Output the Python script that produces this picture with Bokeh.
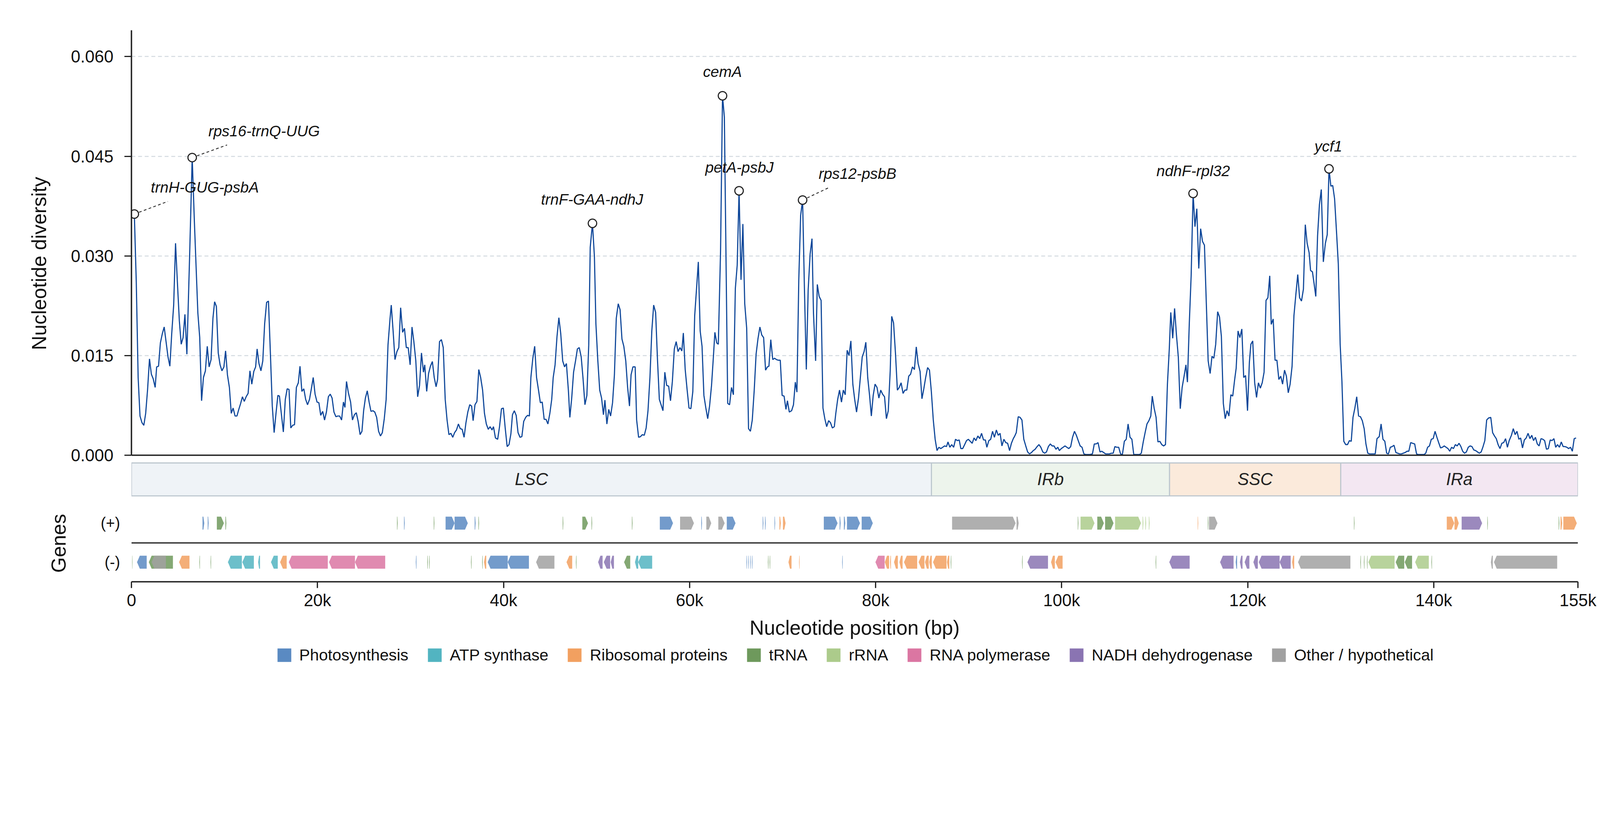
from bokeh.plotting import figure
from bokeh.models import (Range1d, FixedTicker, PrintfTickFormatter, CustomJSTickFormatter,
                          Legend, LegendItem, Span)
from bokeh.layouts import column
from bokeh.embed import file_html
from bokeh.resources import INLINE
from bokeh.core.properties import value

FONT = "Liberation Sans"

# ---------------- sliding-window nucleotide diversity (pi, in units of 1e-3) ----------------
pos_a = [310, 520, 720, 920, 1130, 1330, 1530, 1730, 1940, 2140,
         2340, 2550, 2710, 2910, 3110, 3320, 3520, 3720, 3930, 4130,
         4330, 4540, 4740, 4940, 5150, 5350, 5550, 5750, 5960, 6260,
         6530, 6770, 6930, 7140, 7340, 7540, 7740, 7950, 8150, 8350,
         8560, 8760, 8940, 9130, 9330, 9530, 9730, 9940, 10120, 10320,
         10530, 10730, 10930, 11140, 11340, 11540, 11740, 11930, 12130, 12330,
         12540, 12740, 12940, 13150, 13350, 13510, 13710, 13920, 14120, 14320,
         14530, 14730, 14930, 15140, 15340, 15540, 15740, 15910, 16110, 16330,
         16540, 16740, 16940, 17130, 17330, 17530, 17730, 17940, 18120, 18320,
         18530, 18730, 18930, 19140, 19340, 19540, 19740, 19950, 20150, 20350,
         20560, 20760, 20960, 21170, 21370, 21570, 21770, 21980, 22180, 22380,
         22590, 22790, 22950, 23120, 23320, 23560, 23760, 23970, 24170, 24370,
         24580, 24780, 24960, 25150, 25350, 25550, 25750, 25960, 26160, 26360,
         26570, 26770, 26970, 27180, 27380, 27580, 27790, 27930, 28130, 28330,
         28540, 28740, 28940, 29150, 29350, 29550, 29750, 29960, 30160, 30360,
         30570, 30770, 30970, 31180]
pi_a = [36.3, 26.0, 11.7, 5.9, 4.9, 4.5, 6.3, 9.8, 14.5, 12.2,
        11.5, 10.2, 13.3, 13.4, 16.9, 18.3, 19.3, 17.1, 14.8, 13.4,
        18.3, 22.6, 31.9, 26.0, 20.2, 16.7, 17.7, 21.2, 15.2, 30.3,
        44.8, 35.0, 29.1, 21.4, 17.7, 8.2, 11.7, 12.7, 16.4, 13.3,
        14.4, 20.6, 23.1, 22.4, 15.4, 13.6, 12.7, 13.3, 15.7, 12.1,
        10.2, 6.3, 7.1, 5.9, 5.9, 6.9, 7.8, 8.8, 8.1, 8.8,
        9.3, 12.7, 10.7, 12.6, 13.3, 16.0, 13.8, 12.7, 14.2, 19.8,
        23.0, 23.2, 15.6, 7.4, 3.4, 6.3, 9.0, 8.9, 6.3, 3.5,
        8.4, 10.0, 9.9, 4.1, 4.5, 4.6, 10.2, 10.9, 13.4, 9.6,
        10.0, 8.4, 7.6, 8.4, 10.0, 11.7, 9.2, 8.0, 7.9, 6.0,
        6.6, 5.3, 6.5, 8.8, 9.2, 8.6, 6.5, 5.8, 5.9, 5.9,
        5.3, 8.0, 7.2, 11.1, 9.4, 8.0, 5.3, 6.1, 6.4, 5.1,
        3.1, 3.6, 6.7, 8.6, 9.7, 8.0, 6.6, 6.7, 6.5, 5.7,
        3.6, 2.9, 3.4, 5.5, 8.4, 16.6, 20.4, 22.6, 18.7, 14.4,
        15.6, 16.2, 22.2, 18.5, 19.1, 16.2, 16.2, 13.6, 19.3, 17.1,
        14.2, 8.8, 10.5, 15.4]

pos_b = [31390, 31530, 31740, 31940, 32140, 32350, 32550, 32750, 32910, 33120,
         33320, 33520, 33730, 33930, 34130, 34340, 34540, 34740, 34940, 35150,
         35350, 35550, 35760, 35960, 36160, 36370, 36570, 36730, 36930, 37140,
         37340, 37540, 37750, 37950, 38150, 38360, 38560, 38760, 38920, 39130,
         39370, 39570, 39780, 39980, 40180, 40390, 40590, 40790, 40960, 41160,
         41360, 41560, 41770, 41970, 42170, 42380, 42580, 42780, 42940, 43150,
         43350, 43550, 43760, 43960, 44160, 44370, 44570, 44770, 44980, 45180,
         45340, 45540, 45750, 45950, 46150, 46360, 46560, 46760, 46970, 47130,
         47330, 47530, 47740, 47940, 48140, 48350, 48550, 48750, 48960, 49160,
         49320, 49560, 49770, 49930, 50130, 50340, 50540, 50740, 50900, 51110,
         51310, 51510, 51720, 51920, 52120, 52330, 52530, 52730, 52930, 53140,
         53340, 53540, 53710, 53910, 54150, 54310, 54520, 54720, 54920, 55130,
         55330, 55530, 55740, 55940, 56140, 56350, 56550, 56750, 56960, 57140,
         57340, 57540, 57750, 57950, 58150, 58360, 58560, 58760, 58970, 59170,
         59330, 59530, 59740, 59940, 60140, 60350, 60550, 60750, 60940, 61140,
         61340, 61540, 61750, 61950, 62150, 62360, 62560, 62720, 62920, 63090]
pi_b = [12.5, 13.6, 9.6, 12.3, 13.4, 14.1, 11.7, 10.3, 11.4, 17.1,
        17.4, 16.2, 8.4, 5.3, 3.1, 3.3, 2.7, 3.4, 3.8, 4.7,
        4.0, 3.9, 2.7, 4.9, 6.5, 7.6, 7.4, 5.2, 7.6, 8.1,
        12.9, 11.7, 9.8, 6.3, 4.7, 3.9, 4.3, 3.8, 4.3, 2.6,
        2.4, 4.3, 7.0, 7.1, 4.1, 1.3, 1.6, 3.2, 6.1, 6.7,
        6.0, 3.4, 2.7, 2.8, 5.1, 5.7, 6.0, 5.9, 11.7, 14.6,
        16.4, 11.7, 9.8, 7.9, 8.0, 5.4, 5.4, 4.7, 6.3, 8.4,
        11.7, 13.6, 17.9, 20.7, 18.3, 14.2, 13.3, 13.8, 9.8, 5.7,
        8.6, 12.5, 14.2, 16.0, 16.2, 14.8, 11.5, 7.6, 9.0, 16.6,
        31.3, 34.9, 29.9, 19.8, 14.4, 9.8, 8.6, 6.1, 8.3, 4.7,
        6.9, 5.9, 7.9, 12.1, 20.6, 22.8, 21.9, 17.5, 16.4, 14.2,
        10.2, 7.4, 12.1, 13.3, 13.3, 5.3, 2.7, 2.8, 3.1, 3.0,
        4.1, 6.7, 11.7, 18.7, 22.6, 21.5, 14.4, 8.4, 7.5, 6.7,
        12.5, 10.5, 10.4, 8.2, 11.1, 16.0, 17.1, 15.6, 16.2, 15.7,
        18.4, 12.9, 9.8, 7.1, 7.0, 9.6, 21.0, 25.1, 29.1, 18.7,
        16.4, 9.0, 7.1, 5.5, 7.4, 10.5, 14.8, 18.5, 16.9, 16.7]

pos_c = [63330, 63540, 63740, 64100, 64300, 64510, 64710, 64920, 65120, 65320,
         65530, 65730, 65930, 66140, 66340, 66540, 66740, 66950, 67150, 67350,
         67560, 67760, 67960, 68170, 68370, 68530, 68730, 68940, 69140, 69340,
         69550, 69750, 69950, 70160, 70360, 70520, 70720, 70970, 71170, 71370,
         71540, 71740, 71940, 72150, 72350, 72550, 72750, 72960, 73160, 73320,
         73550, 73730, 73930, 74140, 74340, 74540, 74740, 74950, 75150, 75350,
         75560, 75720, 75920, 76120, 76330, 76530, 76730, 76940, 77140, 77340,
         77550, 77750, 77950, 78160, 78360, 78560, 78760, 78950, 79150, 79350,
         79540, 79740, 79940, 80150, 80350, 80550, 80750, 80960, 81160, 81360,
         81570, 81730, 81930, 82140, 82340, 82540, 82740, 82950, 83150, 83350,
         83560, 83760, 83960, 84170, 84370, 84570, 84780, 84980, 85180, 85380,
         85590, 85790, 85990, 86200, 86400, 86600, 86800, 87010, 87210, 87410,
         87620, 87780, 87980, 88180, 88390, 88590, 88790, 88990, 89160, 89360,
         89570, 89770, 89970, 90170, 90380, 90580, 90780, 90990, 91190, 91390,
         91600, 91800, 91960, 92170, 92370, 92570, 92770, 92980, 93180, 93380,
         93580, 93790, 93990, 94190, 94400, 94600, 94800]
pi_c = [30.7, 54.1, 50.9, 7.8, 7.6, 10.2, 9.1, 25.1, 28.6, 39.8,
        26.4, 34.8, 22.8, 19.1, 4.0, 3.6, 5.3, 9.8, 15.2, 17.5,
        19.3, 18.1, 17.7, 12.8, 13.3, 13.4, 17.4, 14.4, 14.6, 14.4,
        14.3, 14.3, 9.0, 8.9, 6.9, 8.2, 6.5, 6.7, 7.6, 11.0,
        9.5, 26.4, 36.1, 38.4, 24.9, 12.9, 24.9, 30.3, 32.6, 21.4,
        14.2, 25.7, 23.9, 23.3, 7.1, 5.5, 4.3, 5.2, 4.9, 4.1,
        4.3, 6.3, 8.4, 9.8, 8.0, 9.8, 9.1, 15.8, 15.0, 17.2,
        10.7, 8.4, 6.5, 8.6, 11.7, 14.8, 15.6, 17.0, 11.7, 9.0,
        5.9, 9.0, 10.7, 10.2, 8.6, 9.8, 9.2, 8.8, 5.5, 6.7,
        12.7, 20.9, 19.9, 15.2, 9.8, 10.2, 10.9, 9.3, 9.8, 9.8,
        11.9, 12.2, 13.3, 12.9, 16.3, 13.8, 12.6, 8.5, 10.0, 11.7,
        13.2, 12.8, 9.6, 5.3, 2.4, 0.7, 1.2, 1.0, 1.2, 1.4,
        1.3, 2.0, 1.2, 1.6, 1.2, 2.4, 2.2, 2.3, 1.0, 1.0,
        1.6, 2.2, 2.4, 2.1, 1.8, 2.6, 2.2, 2.9, 2.5, 3.3,
        2.3, 2.3, 1.2, 2.2, 2.4, 3.6, 2.7, 3.8, 3.0, 3.3,
        1.4, 2.4, 1.9, 1.8, 0.7, 1.8, 2.5]

pos_d = [94960, 95120, 95330, 95530, 95730, 95930, 96140, 96340, 96540, 96750,
         96950, 97150, 97360, 97560, 97760, 97970, 98170, 98370, 98570, 98780,
         98980, 99180, 99390, 99590, 99750, 99960, 100160, 100360, 100560, 100770,
         100970, 101170, 101380, 101580, 101780, 101990, 102190, 102390, 102600, 102800,
         103000, 103310, 103510, 103710, 103910, 104120, 104320, 104520, 104730, 104930,
         105130, 105340, 105540, 105720, 105920, 106130, 106330, 106530, 106740, 106940,
         107140, 107350, 107550, 107750, 107950, 108160, 108360, 108560, 108770, 108970,
         109170, 109380, 109580, 109740, 109940, 110150, 110350, 110550, 110760, 110960,
         111160, 111370, 111570, 111730, 111940, 112140, 112340, 112540, 112750, 112950,
         113150, 113360, 113520, 113720, 113920, 114130, 114330, 114530, 114740, 114940,
         115140, 115350, 115550, 115750, 115960, 116160, 116360, 116560, 116770, 116970,
         117170, 117380, 117580, 117780, 117980, 118190, 118390, 118590, 118760, 118960,
         119160, 119370, 119570, 119770, 119980, 120180, 120340, 120540, 120750, 120950,
         121150, 121360, 121560, 121760, 121970, 122170, 122370, 122530, 122740, 122940,
         123140, 123350, 123550, 123750, 123960, 124160, 124360, 124560, 124770, 124970,
         125170, 125380, 125580, 125780, 125990, 126190, 126390, 126600, 126760]
pi_d = [2.9, 3.4, 5.8, 5.7, 5.3, 2.4, 1.4, 0.5, 0.2, 0.4,
        0.7, 0.9, 1.3, 1.6, 1.2, 0.5, 0.3, 0.5, 1.3, 1.7,
        1.4, 1.4, 0.9, 1.2, 0.7, 1.0, 1.2, 1.4, 1.2, 1.0,
        1.3, 2.7, 3.6, 3.0, 2.2, 1.4, 1.2, 0.2, 0.1, 0.1,
        0.1, 0.2, 1.7, 1.7, 1.9, 0.5, 0.6, 0.4, 0.2, 0.2,
        0.2, 0.3, 0.3, 1.3, 1.2, 1.2, 0.2, 0.1, 2.1, 2.4,
        4.7, 2.7, 2.4, 0.1, 0.1, 0.1, 0.1, 0.3, 2.0, 3.4,
        4.7, 5.2, 5.9, 8.9, 7.1, 5.7, 2.0, 2.1, 1.6, 1.4,
        1.6, 10.7, 16.0, 21.5, 17.6, 22.1, 18.1, 14.8, 7.0, 10.2,
        11.8, 13.6, 11.0, 19.8, 27.0, 39.4, 34.4, 37.1, 28.1, 34.1,
        32.2, 31.6, 22.9, 14.2, 12.3, 14.9, 14.6, 16.7, 21.6, 20.8,
        17.9, 7.8, 5.5, 6.7, 5.9, 9.1, 8.9, 11.3, 13.1, 18.7,
        17.7, 19.0, 11.7, 12.0, 6.7, 14.0, 16.7, 17.2, 10.9, 8.7,
        10.9, 10.1, 10.9, 12.5, 23.3, 23.7, 27.0, 19.7, 20.5, 14.3,
        14.3, 11.4, 11.9, 10.7, 12.8, 11.9, 9.4, 10.7, 13.4, 21.0,
        24.1, 27.2, 23.7, 23.2, 25.0, 34.7, 31.9, 30.5, 27.8]

pos_e = [126960, 127120, 127320, 127510, 127710, 127910, 128130, 128350, 128550, 128740,
         128940, 129140, 129340, 129540, 129740, 129940, 130130, 130330, 130530, 130730,
         130930, 131130, 131320, 131520, 131720, 131920, 132120, 132320, 132520, 132710,
         132910, 133110, 133310, 133510, 133710, 133900, 134140, 134340, 134540, 134740,
         134940, 135130, 135330, 135530, 135730, 135930, 136130, 136330, 136520, 136720,
         136920, 137120, 137320, 137520, 137720, 137950, 138150, 138350, 138550, 138750,
         138950, 139140, 139340, 139540, 139740, 139940, 140140, 140340, 140530, 140730,
         140930, 141130, 141330, 141530, 141720, 141920, 142120, 142320, 142520, 142720,
         142920, 143110, 143310, 143510, 143710, 143910, 144110, 144300, 144500, 144700,
         144900, 145100, 145300, 145490, 145690, 145890, 146130, 146330, 146530, 146720,
         146920, 147120, 147320, 147520, 147720, 147920, 148110, 148350, 148550, 148750,
         148950, 149150, 149340, 149540, 149740, 149940, 150140, 150340, 150540, 150730,
         150930, 151130, 151330, 151530, 151730, 151920, 152120, 152320, 152520, 152720,
         152920, 153110, 153310, 153510, 153710, 153910, 154110, 154310, 154500, 154700,
         154900, 155100, 155300]
pi_e = [27.6, 26.0, 23.9, 33.0, 37.7, 40.0, 29.1, 31.9, 33.2, 43.1,
        40.5, 40.6, 38.6, 33.8, 28.8, 16.7, 11.1, 2.1, 1.6, 1.6,
        2.2, 2.1, 5.7, 7.1, 8.8, 5.9, 5.8, 5.2, 4.0, 1.7,
        0.3, 0.2, 0.2, 0.2, 0.2, 2.5, 2.8, 4.7, 2.4, 2.1,
        0.3, 0.2, 1.2, 1.3, 1.5, 0.4, 0.3, 0.2, 0.2, 0.3,
        0.4, 0.6, 0.6, 1.9, 1.8, 1.7, 0.2, 0.1, 0.1, 0.1,
        0.1, 0.3, 1.2, 1.4, 2.4, 2.5, 3.6, 2.7, 1.9, 1.1,
        1.2, 1.4, 1.2, 1.0, 0.6, 1.2, 1.0, 1.6, 1.4, 1.8,
        1.3, 0.6, 0.3, 0.5, 1.2, 1.4, 1.3, 0.8, 0.7, 0.5,
        0.3, 0.5, 1.3, 2.2, 5.3, 5.6, 5.7, 3.4, 2.9, 2.5,
        1.6, 1.0, 1.8, 1.9, 2.5, 1.2, 2.2, 3.0, 4.0, 3.1,
        3.6, 2.4, 2.6, 1.1, 2.3, 2.6, 3.3, 2.5, 3.0, 2.2,
        2.7, 1.7, 1.4, 2.5, 2.4, 2.2, 0.9, 1.0, 2.3, 2.2,
        2.5, 1.2, 1.6, 1.2, 2.0, 1.3, 1.3, 1.2, 1.0, 1.2,
        0.6, 2.5, 2.6]

# ---------------- highlighted hotspots ----------------
peak_names = ["trnH-GUG-psbA", "rps16-trnQ-UUG", "trnF-GAA-ndhJ", "cemA",
              "petA-psbJ", "rps12-psbB", "ndhF-rpl32", "ycf1"]
peak_pos = [310, 6530, 49560, 63540, 65320, 72150, 114130, 128740]
peak_pi = [36.3, 44.8, 34.9, 54.1, 39.8, 38.4, 39.4, 43.1]

# ---------------- genome regions ----------------
region_names = ["LSC", "IRb", "SSC", "IRa"]
region_start = [0, 86000, 111600, 130000]
region_end = [86000, 111600, 130000, 155500]

# ---------------- genes ----------------
categories = ["Photosynthesis", "ATP synthase", "Ribosomal proteins", "tRNA", "rRNA",
              "RNA polymerase", "NADH dehydrogenase", "Other / hypothetical"]
cat_codes = ["PS", "ATP", "RP", "T", "R", "POL", "NDH", "O"]

plus_start = [7640, 8200, 9180, 10100, 28550, 29300, 32500, 33770, 34740, 36900,
              37300, 46360, 48470, 49460, 53800, 56800, 58980, 61260, 61800, 63090,
              64000, 67860, 68110, 69130, 69660, 70040, 74430, 76130, 76590, 76920,
              78500, 88220, 95150, 101730, 102030, 103830, 104670, 105740, 108700, 109000,
              109370, 114620, 115710, 115840, 131420, 141400, 142230, 143000, 145760, 153430,
              153630, 153930]
plus_end = [7830, 8300, 9940, 10200, 28620, 29380, 32570, 34740, 36160, 37000,
            37370, 46430, 49080, 49530, 53870, 58220, 60470, 61340, 62330, 63770,
            64940, 67940, 68190, 69200, 69810, 70320, 75910, 76240, 76740, 78320,
            79700, 95050, 95380, 101800, 103530, 104540, 105580, 108530, 108780, 109080,
            109450, 114680, 115770, 116750, 131480, 142210, 142690, 145200, 145820, 153500,
            153810, 155380]
plus_cat = ["PS", "PS", "T", "T", "T", "PS", "T", "PS", "PS", "PS",
            "T", "T", "T", "T", "T", "PS", "O", "PS", "O", "O",
            "PS", "PS", "PS", "PS", "RP", "RP", "PS", "PS", "PS", "PS",
            "PS", "O", "O", "T", "R", "T", "T", "R", "R", "R",
            "R", "RP", "T", "O", "T", "RP", "RP", "NDH", "T", "T",
            "RP", "RP"]

minus_start = [70, 600, 1870, 2170, 5120, 7300, 8500, 10370, 11920, 13620,
               15000, 15980, 16920, 21240, 24030, 30570, 31800, 32000, 36500, 37700,
               37900, 38300, 40450, 43500, 46770, 47780, 50170, 50780, 51520, 52960,
               54130, 54480, 66110, 66310, 66520, 66700, 68420, 68600, 70630, 71770,
               76400, 79980, 80990, 81550, 81980, 82560, 83050, 84620, 85310, 85760,
               86170, 87670, 88070, 95740, 96320, 98860, 99340, 110100, 111570, 117030,
               118710, 119160, 119670, 120610, 121190, 123430, 124770, 125410, 132110, 132490,
               132820, 132970, 135910, 136880, 138000, 139750, 146140, 146470]
minus_end = [110, 1640, 4460, 3700, 6240, 7360, 8560, 11870, 13160, 13820,
             15730, 16690, 21110, 24030, 27280, 30640, 31860, 32060, 36560, 37760,
             38140, 40450, 42730, 45470, 47380, 47840, 50650, 51460, 51870, 53620,
             54480, 55980, 66170, 66370, 66580, 66760, 68480, 68660, 70960, 71830,
             76460, 80970, 81450, 81650, 82390, 82900, 84470, 85250, 85710, 86040,
             87620, 87920, 88130, 95800, 98530, 99270, 100100, 110160, 113760, 118480,
             118860, 119440, 120180, 121090, 123430, 124620, 125000, 131040, 132170, 132550,
             132880, 135790, 136830, 137670, 139470, 139810, 146350, 153270]
minus_cat = ["T", "PS", "T", "O", "RP", "T", "T", "ATP", "ATP", "ATP",
             "ATP", "RP", "POL", "POL", "POL", "PS", "T", "T", "T", "T",
             "RP", "PS", "PS", "O", "RP", "T", "NDH", "NDH", "NDH", "T",
             "ATP", "ATP", "PS", "PS", "PS", "PS", "T", "T", "RP", "RP",
             "PS", "POL", "RP", "RP", "RP", "RP", "RP", "RP", "RP", "RP",
             "RP", "RP", "T", "T", "NDH", "RP", "RP", "T", "NDH", "NDH",
             "PS", "NDH", "NDH", "NDH", "NDH", "NDH", "RP", "O", "T", "T",
             "T", "R", "T", "T", "R", "T", "O", "O"]

x_ticks = [0, 20000, 40000, 60000, 80000, 100000, 120000, 140000, 155500]
y_ticks = [0.0, 0.015, 0.030, 0.045, 0.060]

# ---------------- styling / placement (not data) ----------------
S = 4322 / 4096.0          # screenshot pixels per CSS pixel


def fs(v):
    return "%.1fpx" % (v / S)


def ipx(v):
    return int(round(v / S))


LINE_COLOR = "#0d4699"
cat_colors = {"PS": "#5a8ac2", "ATP": "#52b4c1", "RP": "#f2a060", "T": "#6e995c",
              "R": "#accb8b", "POL": "#db76a2", "NDH": "#8a74b2", "O": "#a1a1a1"}
region_colors = ["#eff3f7", "#edf4ec", "#fbeadb", "#f3e7f2"]
label_x = [7890, 14260, 49520, 63530, 65360, 78050, 114140, 128670]
label_y = [0.0403, 0.0488, 0.0385, 0.0577, 0.0433, 0.0424, 0.0428, 0.0465]
leader_idx = [0, 1, 5]
leader_x1 = [3910, 10280, 75000]
leader_y1 = [0.0382, 0.0467, 0.0403]

FRAME_W = 3703
LEFT, RIGHT = 336, 49
Y_TOP = 0.06396
Y_BOTTOM = -0.00623        # room below zero for the region bar

# ---------------- assemble diversity series ----------------
pos_all, pi_all = [], []
for p_seg, v_seg in [(pos_a, pi_a), (pos_b, pi_b), (pos_c, pi_c), (pos_d, pi_d), (pos_e, pi_e)]:
    n = min(len(p_seg), len(v_seg))
    pos_all += p_seg[:n]
    pi_all += [v / 1000.0 for v in v_seg[:n]]

x_range = Range1d(0, 155500)


def style_axis_text(ax, tick_size, label_size):
    ax.major_label_text_font = FONT
    ax.major_label_text_font_size = tick_size
    ax.major_label_text_color = "#111111"
    ax.axis_label_text_font = FONT
    ax.axis_label_text_font_size = label_size
    ax.axis_label_text_font_style = "normal"
    ax.axis_label_text_color = "#111111"


# ======== panel A: nucleotide diversity + region bar ========
pA = figure(frame_width=FRAME_W, frame_height=1194, x_range=x_range,
            y_range=Range1d(Y_BOTTOM, Y_TOP), output_backend="svg", toolbar_location=None,
            min_border_left=LEFT, min_border_right=RIGHT, min_border_top=77, min_border_bottom=10)
pA.extra_y_ranges = {"reg": Range1d(0, 1260)}
pA.outline_line_color = None
pA.xgrid.visible = False
pA.xaxis.visible = False
pA.ygrid.ticker = FixedTicker(ticks=[0.015, 0.030, 0.045, 0.060])
pA.ygrid.grid_line_color = "#d3dae0"
pA.ygrid.grid_line_dash = "10 7"
pA.ygrid.grid_line_width = 2.3

ya = pA.yaxis[0]
ya.bounds = (0, Y_TOP)
ya.ticker = FixedTicker(ticks=y_ticks)
ya.formatter = PrintfTickFormatter(format="%.3f")
ya.axis_line_width = 3.6
ya.axis_line_color = "#222222"
ya.major_tick_line_width = 3.2
ya.major_tick_line_color = "#222222"
ya.major_tick_out = 18
ya.major_tick_in = 0
ya.minor_tick_line_color = None
ya.major_label_standoff = 28
ya.axis_label = "Nucleotide diversity"
ya.axis_label_standoff = 49
style_axis_text(ya, fs(46), fs(54))

# bottom spine of the diversity panel (at pi = 0)
pA.add_layout(Span(location=0, dimension="width", line_color="#222222", line_width=3.6))

pA.line(pos_all, pi_all, line_color=LINE_COLOR, line_width=2.9)

peak_val = [v / 1000.0 for v in peak_pi]
pA.segment(x0=[peak_pos[i] for i in leader_idx], y0=[peak_val[i] for i in leader_idx],
           x1=leader_x1, y1=leader_y1, line_color="#333333", line_width=2.3, line_dash="7 6")
pA.scatter(peak_pos, peak_val, size=23 / S, marker="circle", fill_color="white",
           line_color="#222222", line_width=2.8)
pA.text(x=label_x, y=label_y, text=peak_names, text_font=value(FONT),
        text_font_style="italic", text_font_size=fs(41), text_color="#111111",
        text_align="center", text_baseline="middle")

# region bar (own y scale in the lower strip of the frame)
pA.quad(left=region_start, right=region_end, bottom=2, top=91, fill_color=region_colors,
        line_color="#bcc6ce", line_width=2.8, y_range_name="reg")
region_mid = [(s + e) / 2 for s, e in zip(region_start, region_end)]
pA.text(x=region_mid, y=[46.5] * len(region_mid), text=region_names, text_font=value(FONT),
        text_font_style="italic", text_font_size=fs(46), text_color="#222222",
        text_align="center", text_baseline="middle", y_range_name="reg")

# ======== panel G: genes ========
PLUS_Y, MINUS_Y, HALF = 158.5, 53.0, 17.5
pG = figure(frame_width=FRAME_W, frame_height=197, x_range=x_range, y_range=Range1d(0, 208),
            output_backend="svg", toolbar_location=None,
            min_border_left=LEFT, min_border_right=RIGHT, min_border_top=11, min_border_bottom=150)
pG.outline_line_color = None
pG.grid.visible = False


def arrow(s, e, strand, yc):
    length = e - s
    tip = min(300.0, 0.5 * length)
    if strand > 0:
        xs = [s, e - tip, e, e - tip, s]
    else:
        xs = [e, s + tip, s, s + tip, e]
    ys = [yc - HALF, yc - HALF, yc, yc + HALF, yc + HALF]
    return xs, ys


polys = {c: ([], []) for c in cat_codes}
for s, e, c in zip(plus_start, plus_end, plus_cat):
    xs, ys = arrow(s, e, 1, PLUS_Y)
    polys[c][0].append(xs)
    polys[c][1].append(ys)
for s, e, c in zip(minus_start, minus_end, minus_cat):
    xs, ys = arrow(s, e, -1, MINUS_Y)
    polys[c][0].append(xs)
    polys[c][1].append(ys)

for c in cat_codes:
    pG.patches(polys[c][0], polys[c][1], fill_color=cat_colors[c], fill_alpha=0.85, line_color=None)

pG.add_layout(Span(location=105, dimension="width", line_color="#333333", line_width=3.6))

gx = pG.xaxis[0]
gx.ticker = FixedTicker(ticks=x_ticks)
gx.formatter = CustomJSTickFormatter(code="return tick == 0 ? '0' : Math.floor(tick / 1000) + 'k';")
gx.axis_line_width = 3.6
gx.axis_line_color = "#222222"
gx.major_tick_line_width = 3.2
gx.major_tick_line_color = "#222222"
gx.major_tick_out = 16
gx.major_tick_in = 0
gx.minor_tick_line_color = None
gx.major_label_standoff = 7
gx.axis_label = "Nucleotide position (bp)"
gx.axis_label_standoff = 15
style_axis_text(gx, fs(46), fs(54))

gy = pG.yaxis[0]
gy.ticker = FixedTicker(ticks=[MINUS_Y, PLUS_Y])
gy.formatter = CustomJSTickFormatter(code="return tick > 100 ? '(+)' : '(-)';")
gy.axis_line_color = None
gy.major_tick_line_color = None
gy.minor_tick_line_color = None
gy.major_tick_out = 0
gy.major_label_standoff = 29
gy.axis_label = "Genes"
gy.axis_label_standoff = 76
style_axis_text(gy, fs(42), fs(54))

# ======== legend strip (category swatches use the gene shapes, kept outside its view) ========
pL = figure(frame_width=FRAME_W, frame_height=60, x_range=x_range, y_range=Range1d(0, 1),
            output_backend="svg", toolbar_location=None,
            min_border_left=LEFT, min_border_right=RIGHT, min_border_top=8, min_border_bottom=0)
pL.outline_line_color = None
pL.grid.visible = False
pL.xaxis.visible = False
pL.yaxis.visible = False
legend_items = []
for name, c in zip(categories, cat_codes):
    r = pL.patches(polys[c][0], polys[c][1], fill_color=cat_colors[c], line_color=None)
    legend_items.append(LegendItem(label=name, renderers=[r]))
# Bokeh insets area swatches by 10% per side: a 37x36 px swatch needs a ~46x45 px glyph box
legend = Legend(items=legend_items, orientation="horizontal", location="center",
                glyph_width=ipx(46.3), glyph_height=ipx(45.0),
                label_standoff=ipx(18.4), spacing=ipx(47.4),
                padding=0, margin=0, label_text_font=FONT, label_text_font_size=fs(43.5),
                label_text_color="#111111", border_line_color=None, background_fill_alpha=0)
pL.add_layout(legend)

layout = column(pA, pG, pL)
open("out.html", "w").write(file_html(layout, INLINE))
